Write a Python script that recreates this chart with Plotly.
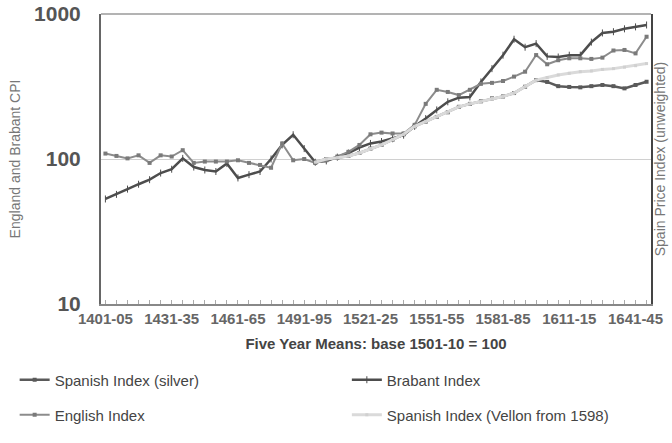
import plotly.graph_objects as go

# five-year periods, 1401-05 .. 1646-50
PERIODS = [
    "1401-05", "1406-10", "1411-15", "1416-20", "1421-25", "1426-30", "1431-35", "1436-40",
    "1441-45", "1446-50", "1451-55", "1456-60", "1461-65", "1466-70", "1471-75", "1476-80",
    "1481-85", "1486-90", "1491-95", "1496-00", "1501-05", "1506-10", "1511-15", "1516-20",
    "1521-25", "1526-30", "1531-35", "1536-40", "1541-45", "1546-50", "1551-55", "1556-60",
    "1561-65", "1566-70", "1571-75", "1576-80", "1581-85", "1586-90", "1591-95", "1596-00",
    "1601-05", "1606-10", "1611-15", "1616-20", "1621-25", "1626-30", "1631-35", "1636-40",
    "1641-45", "1646-50",
]
TICK_LABELS = ["1401-05", "1431-35", "1461-65", "1491-95", "1521-25",
               "1551-55", "1581-85", "1611-15", "1641-45"]

BRABANT = [53, 57, 62, 67, 72, 80, 85, 101, 88, 84,
           82, 93, 74, 78, 82, 100, 125, 147, 118, 95,
           97, 103, 110, 120, 128, 132, 138, 146, 168, 190,
           218, 248, 265, 268, 340, 420, 520, 670, 590, 625,
           510, 505, 520, 520, 640, 740, 755, 790, 815, 840]

ENGLISH = [109, 105, 101, 106, 94, 106, 104, 115, 94, 96,
           96, 96, 98, 94, 91, 87, 128, 98, 100, 94,
           98, 104, 112, 125, 148, 152, 150, 150, 172, 240,
           300, 290, 276, 300, 330, 335, 345, 370, 400, 521,
           450, 480, 495, 495, 490, 500, 560, 565, 535, 697]

SPAIN_SILVER = [None] * 19 + [
    95, 100, 102, 105, 110, 118, 125, 136, 148, 168,
    181, 195, 210, 229, 240, 250, 262, 270, 285, 315,
    350, 340, 318, 314, 312, 318, 324, 318, 307, 324, 341]

SPAIN_VELLON = [None] * 19 + [
    95, 100, 102, 105, 110, 118, 125, 136, 148, 168,
    181, 195, 210, 229, 240, 250, 262, 270, 285, 315,
    350, 365, 380, 390, 400, 405, 415, 420, 430, 440, 455]

FONT = "Arial, Liberation Sans, sans-serif"

fig = go.Figure()

fig.add_trace(go.Scatter(
    name="Spanish Index (silver)", x=PERIODS, y=SPAIN_SILVER, yaxis="y2",
    mode="lines+markers", line=dict(color="#5a5a5a", width=2.5),
    marker=dict(symbol="square", size=4, color="#5a5a5a"), legend="legend",
))
fig.add_trace(go.Scatter(
    name="Spanish Index (Vellon from 1598)", x=PERIODS, y=SPAIN_VELLON, yaxis="y2",
    mode="lines+markers", line=dict(color="#dadada", width=3),
    marker=dict(symbol="square", size=3, color="#d0d0d0"), legend="legend4",
))
fig.add_trace(go.Scatter(
    name="Brabant Index", x=PERIODS, y=BRABANT,
    mode="lines+markers", line=dict(color="#4d4d4d", width=2.5),
    marker=dict(symbol="line-ns", size=5, line=dict(width=1, color="#4d4d4d")),
    legend="legend2",
))
fig.add_trace(go.Scatter(
    name="English Index", x=PERIODS, y=ENGLISH,
    mode="lines+markers", line=dict(color="#8c8c8c", width=2),
    marker=dict(symbol="square", size=4, color="#7a7a7a"), legend="legend3",
))

# top border of the plot box
fig.add_shape(type="line", xref="paper", yref="paper", x0=0, x1=1, y0=1, y1=1,
              line=dict(color="#9a9a9a", width=1.5))

legend_style = dict(orientation="h", xanchor="left", yanchor="middle", itemwidth=30,
                    font=dict(size=15, color="#444", family=FONT), bgcolor="rgba(0,0,0,0)")

fig.update_layout(
    width=672, height=443,
    margin=dict(l=101, r=21, t=14, b=139, autoexpand=False),
    plot_bgcolor="white", paper_bgcolor="white",
    font=dict(family=FONT, color="#555"),
    showlegend=True,
    xaxis=dict(
        type="category", range=[-0.4, 49.4], automargin=False,
        tickmode="array", tickvals=PERIODS,
        ticktext=[p if p in TICK_LABELS else "" for p in PERIODS],
        ticks="inside", ticklen=4, tickcolor="#aaa",
        tickfont=dict(size=15, family=FONT, color="#666", weight="bold"),
        showline=True, linecolor="#888", linewidth=1.5, showgrid=False,
        title=dict(text="<b>Five Year Means: base 1501-10 = 100</b>",
                   font=dict(size=15, color="#444"), standoff=13),
    ),
    yaxis=dict(
        type="log", range=[1, 3], automargin=False,
        tickvals=[10, 100, 1000], ticktext=["10", "100", "1000"],
        tickfont=dict(size=21, family=FONT, color="#555", weight="bold"),
        ticks="", ticklabelstandoff=14,
        showline=True, linecolor="#666", linewidth=2,
        showgrid=True, gridcolor="#d0d0d0", gridwidth=1,
        title=dict(text="England and Brabant CPI", font=dict(size=14, color="#777"), standoff=10),
        zeroline=False,
    ),
    yaxis2=dict(
        type="log", range=[1, 3], overlaying="y", side="right", automargin=False,
        showticklabels=False, ticks="", showgrid=False,
        showline=True, linecolor="#444", linewidth=2,
        title=dict(text="Spain Price Index (unweighted)", font=dict(size=14, color="#777"), standoff=3),
    ),
    legend=dict(x=-0.157, y=-0.262, **legend_style),
    legend2=dict(x=0.447, y=-0.262, **legend_style),
    legend3=dict(x=-0.157, y=-0.383, **legend_style),
    legend4=dict(x=0.447, y=-0.383, **legend_style),
)

fig.write_html("out.html", config={"displayModeBar": False},
               post_script="document.body.style.margin='0';")
